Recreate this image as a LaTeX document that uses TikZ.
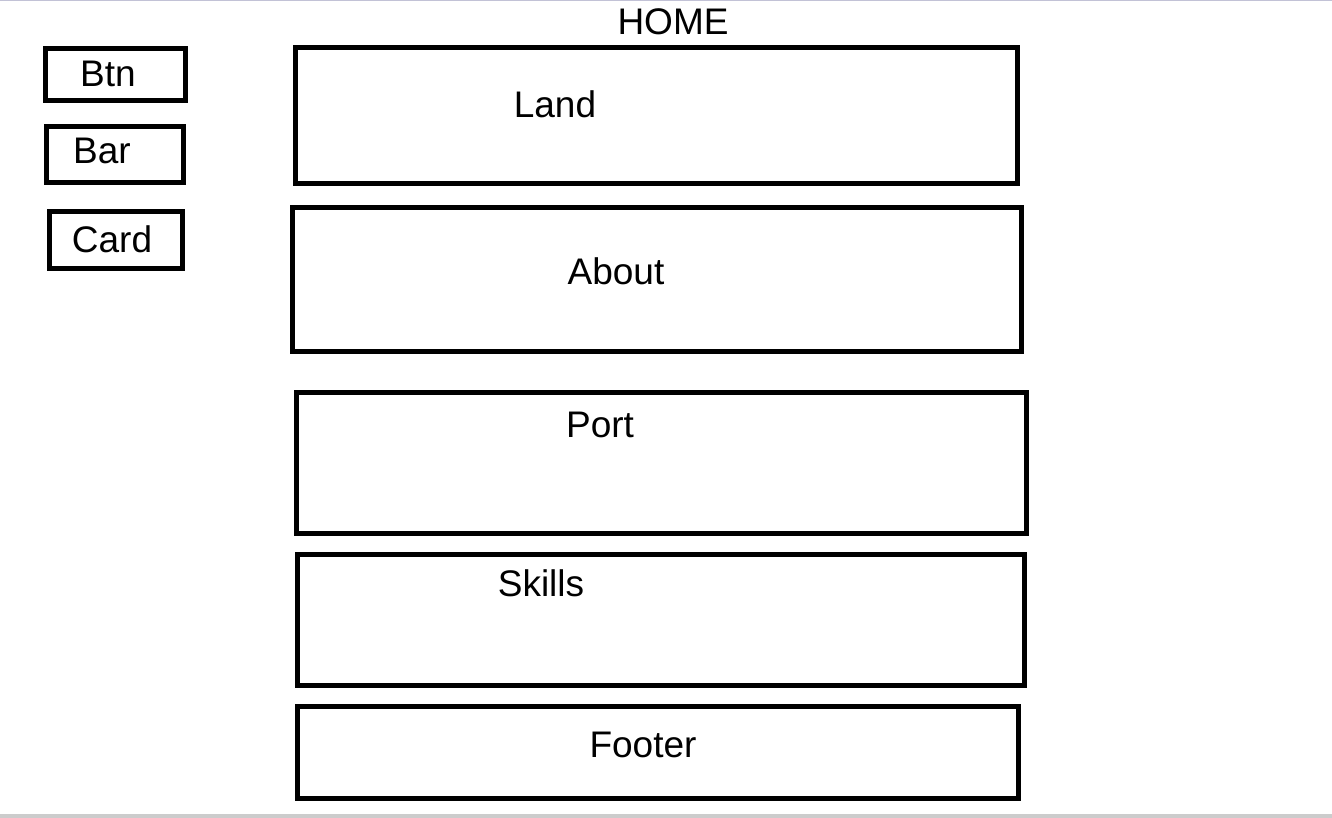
\documentclass[tikz,border=0pt]{standalone}
\usepackage{fontspec}
\setmainfont{Liberation Sans}
\begin{document}
\begin{tikzpicture}[x=1pt,y=-1pt,
  box/.style={draw=black,line width=5pt,inner sep=0pt,rectangle},
  lbl/.style={inner sep=0pt,font=\fontsize{37}{42}\selectfont,anchor=center}]
\useasboundingbox (0,0) rectangle (1332,818);
\fill[white] (0,0) rectangle (1332,818);
\fill[black!20] (0,814) rectangle (1332,818);
\fill[blue!20!gray!40] (0,0) rectangle (1332,1.5);
% side boxes
\node[box,minimum width=140.5pt,minimum height=52.5pt] (btn) at (115.5,74.5) {};
\node[box,minimum width=137.5pt,minimum height=56.5pt] (bar) at (115,154.5) {};
\node[box,minimum width=133.5pt,minimum height=57.5pt] (card) at (116,240) {};
% main boxes
\node[box,minimum width=722.75pt,minimum height=136.25pt] (land) at (656.6,115.4) {};
\node[box,minimum width=729.25pt,minimum height=144pt] (about) at (656.9,279.5) {};
\node[box,minimum width=730.5pt,minimum height=141.25pt] (port) at (661.5,462.9) {};
\node[box,minimum width=727.25pt,minimum height=131pt] (skills) at (660.9,619.5) {};
\node[box,minimum width=721.5pt,minimum height=92.5pt] (footer) at (658,752.5) {};
% labels
\node[lbl] (home) at (673,22) {HOME};
\node[lbl] (btnl) at (108,74) {Btn};
\node[lbl] (barl) at (102,151) {Bar};
\node[lbl] (cardl) at (112,239) {Card};
\node[lbl] (landl) at (555,104) {Land};
\node[lbl] (aboutl) at (616,271) {About};
\node[lbl] (portl) at (600,425) {Port};
\node[lbl] (skillsl) at (541,583) {Skills};
\node[lbl] (footerl) at (643,745) {Footer};
\end{tikzpicture}
\end{document}
